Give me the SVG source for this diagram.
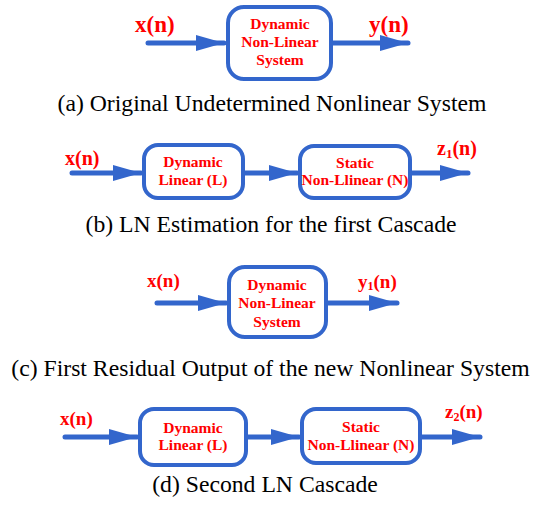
<svg xmlns="http://www.w3.org/2000/svg" width="534" height="506" viewBox="0 0 534 506">
  <style>
    .box { fill: #ffffff; stroke: #3366cc; stroke-width: 4; }
    .wire { stroke: #3366cc; stroke-width: 5; fill: none; stroke-linecap: round; }
    .in { font-family: "Liberation Serif", "Times New Roman", serif; font-weight: bold; fill: #ff0000; text-anchor: middle; font-size: 15.5px; }
    .sig { font-family: "Liberation Serif", "Times New Roman", serif; font-weight: bold; fill: #ff0000; }
    .cap { font-family: "Liberation Serif", "Times New Roman", serif; fill: #000000; text-anchor: middle; font-size: 23.7px; }
  </style>
  <defs>
    <marker id="head" markerUnits="userSpaceOnUse" markerWidth="30" markerHeight="20" refX="28" refY="8" orient="auto">
      <path d="M0,0 L28,8 L0,16 Z" fill="#3366cc"/>
    </marker>
  </defs>
  <rect width="534" height="506" fill="#ffffff"/>

  <!-- connectors -->
  <g id="connectors">
    <line class="wire" x1="148" y1="43" x2="224" y2="43" marker-end="url(#head)"/>
    <line class="wire" x1="333" y1="43" x2="408" y2="43" marker-end="url(#head)"/>

    <line class="wire" x1="72" y1="173" x2="141" y2="173" marker-end="url(#head)"/>
    <line class="wire" x1="245" y1="173" x2="297" y2="173" marker-end="url(#head)"/>
    <line class="wire" x1="412" y1="173" x2="468" y2="173" marker-end="url(#head)"/>

    <line class="wire" x1="157" y1="303" x2="226" y2="303" marker-end="url(#head)"/>
    <line class="wire" x1="328" y1="303" x2="397" y2="303" marker-end="url(#head)"/>

    <line class="wire" x1="65" y1="437" x2="137" y2="437" marker-end="url(#head)"/>
    <line class="wire" x1="248" y1="437" x2="299" y2="437" marker-end="url(#head)"/>
    <line class="wire" x1="422" y1="437" x2="480" y2="437" marker-end="url(#head)"/>
  </g>

  <!-- (a) original system -->
  <g id="a-system">
    <rect class="box" x="228" y="7" width="103" height="72" rx="16"/>
    <text class="in" x="280" y="29">Dynamic</text>
    <text class="in" x="280" y="47">Non-Linear</text>
    <text class="in" x="280" y="65">System</text>
  </g>
  <g id="a-labels">
    <text class="sig" x="135" y="32" font-size="23">x(n)</text>
    <text class="sig" x="369" y="32" font-size="23">y(n)</text>
  </g>
  <text class="cap" x="272" y="111">(a) Original Undetermined Nonlinear System</text>

  <!-- (b) first LN cascade -->
  <g id="b-linear">
    <rect class="box" x="144" y="145" width="99" height="53" rx="14"/>
    <text class="in" x="193" y="167">Dynamic</text>
    <text class="in" x="193" y="185">Linear (L)</text>
  </g>
  <g id="b-static">
    <rect class="box" x="300" y="146" width="110" height="52" rx="14"/>
    <text class="in" x="355" y="168">Static</text>
    <text class="in" x="355" y="185">Non-Llinear (N)</text>
  </g>
  <g id="b-labels">
    <text class="sig" x="65" y="165" font-size="20">x(n)</text>
    <text class="sig" x="437" y="155" font-size="20">z<tspan font-size="13" dy="3">1</tspan><tspan dy="-3">(n)</tspan></text>
  </g>
  <text class="cap" x="271" y="232">(b) LN Estimation for the first Cascade</text>

  <!-- (c) residual system -->
  <g id="c-system">
    <rect class="box" x="229" y="267" width="97" height="70" rx="16"/>
    <text class="in" x="277" y="290">Dynamic</text>
    <text class="in" x="277" y="308">Non-Linear</text>
    <text class="in" x="277" y="327">System</text>
  </g>
  <g id="c-labels">
    <text class="sig" x="147" y="287" font-size="19">x(n)</text>
    <text class="sig" x="358" y="288" font-size="19">y<tspan font-size="12" dy="2">1</tspan><tspan dy="-2">(n)</tspan></text>
  </g>
  <text class="cap" x="270.5" y="376">(c) First Residual Output of the new Nonlinear System</text>

  <!-- (d) second LN cascade -->
  <g id="d-linear">
    <rect class="box" x="140" y="409" width="106" height="56" rx="14"/>
    <text class="in" x="193" y="433">Dynamic</text>
    <text class="in" x="193" y="450">Linear (L)</text>
  </g>
  <g id="d-static">
    <rect class="box" x="302" y="409" width="118" height="54" rx="14"/>
    <text class="in" x="361" y="432">Static</text>
    <text class="in" x="361" y="450">Non-Llinear (N)</text>
  </g>
  <g id="d-labels">
    <text class="sig" x="60" y="425" font-size="19">x(n)</text>
    <text class="sig" x="445" y="418" font-size="19">z<tspan font-size="12" dy="3">2</tspan><tspan dy="-3">(n)</tspan></text>
  </g>
  <text class="cap" x="265" y="492">(d) Second LN Cascade</text>
</svg>
